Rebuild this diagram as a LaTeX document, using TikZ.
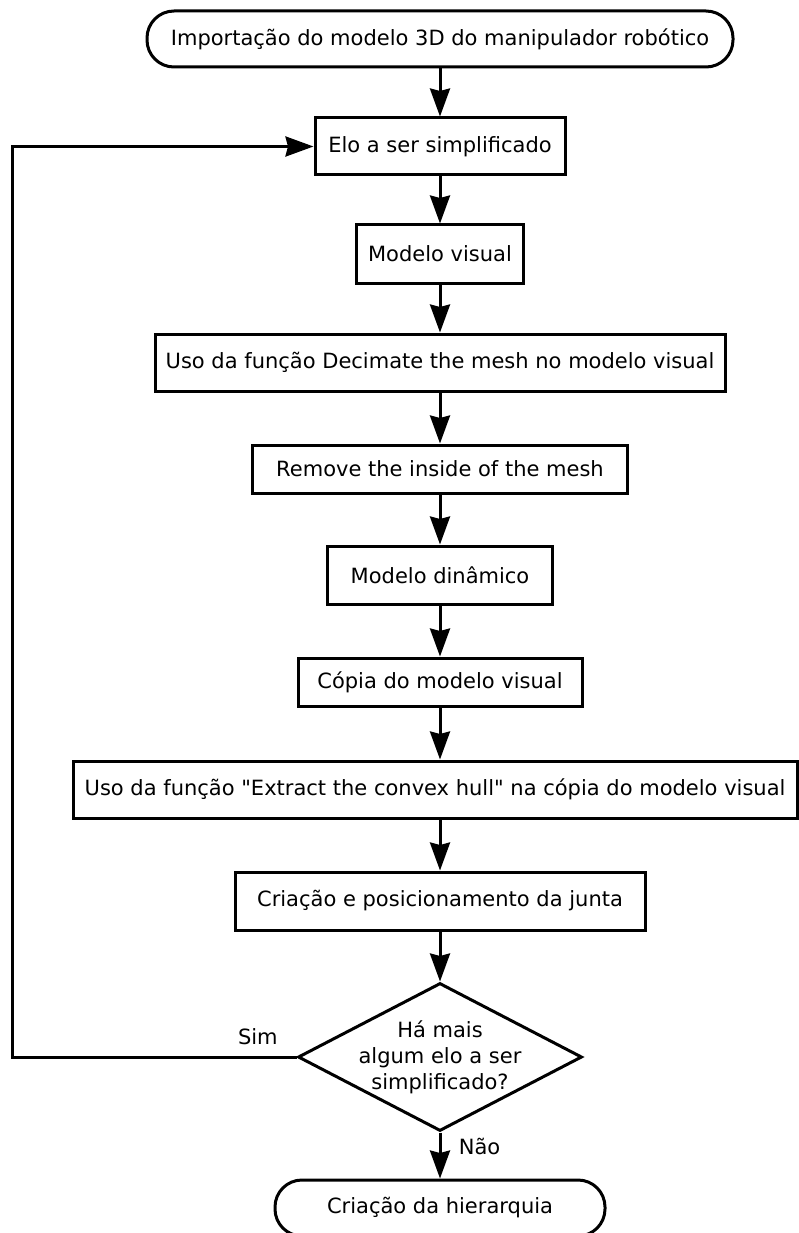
\documentclass[tikz,border=0pt]{standalone}
\usepackage{fontspec}
\setmainfont{DejaVu Sans}[Ligatures=TeXOff]
\usetikzlibrary{arrows.meta,shapes.geometric}
\begin{document}
\begin{tikzpicture}[x=1pt,y=-1pt,
  every node/.style={font=\fontsize{21}{26}\selectfont},
  box/.style={draw,line width=3pt,inner sep=0pt,minimum height=57pt},
  term/.style={draw,line width=3pt,inner sep=0pt,rounded corners=27pt,minimum height=56pt},
  decision/.style={draw,diamond,line width=3pt,minimum width=284pt,minimum height=148pt,inner sep=0pt},
  flow/.style={line width=3pt,-{Stealth[length=28pt,width=20pt,inset=2.5pt]}}]
\useasboundingbox (0,0) rectangle (799,1233);
\node[term,minimum width=586pt] (start) at (440,39) {Importação do modelo 3D do manipulador robótico};
\node[box,minimum width=250pt] (elo) at (440,146.5) {Elo a ser simplificado};
\node[box,minimum width=167pt,minimum height=58pt] (mv) at (440,254) {Modelo visual};
\node[box,minimum width=570pt] (dec) at (440,362.5) {Uso da função Decimate the mesh no modelo visual};
\node[box,minimum width=375pt,minimum height=48pt] (rem) at (440,469) {Remove the inside of the mesh};
\node[box,minimum width=225pt,minimum height=58pt] (din) at (440,575) {Modelo dinâmico};
\node[box,minimum width=284pt,minimum height=48pt] (cop) at (440,682) {Cópia do modelo visual};
\node[box,minimum width=724pt] (ext) at (435,789.5) {Uso da função "Extract the convex hull" na cópia do modelo visual};
\node[box,minimum width=410pt,minimum height=58pt] (jun) at (440,901) {Criação e posicionamento da junta};
\node[decision] (dia) at (440,1057) {};
\node[align=center,inner sep=0pt] (q) at (dia.center) {Há mais\\algum elo a ser\\simplificado?};
\node[term,minimum width=330pt] (end) at (440,1208) {Criação da hierarquia};
\coordinate (fb) at (12,1057);
\draw[flow] (start) -- (elo);
\draw[flow] (elo) -- (mv);
\draw[flow] (mv) -- (dec);
\draw[flow] (dec) -- (rem);
\draw[flow] (rem) -- (din);
\draw[flow] (din) -- (cop);
\draw[flow] (cop.south) -- (cop.south |- ext.north);
\draw[flow] (ext.south -| jun.north) -- (jun.north);
\draw[flow] (jun) -- (dia);
\draw[flow] (dia.south) -- node[pos=0.3,anchor=west,xshift=14pt] {Não} (end.north);
\draw[flow] (dia.west) -- node[pos=0.136,above,yshift=7pt] {Sim} (fb) |- (elo.west);
\end{tikzpicture}
\end{document}
